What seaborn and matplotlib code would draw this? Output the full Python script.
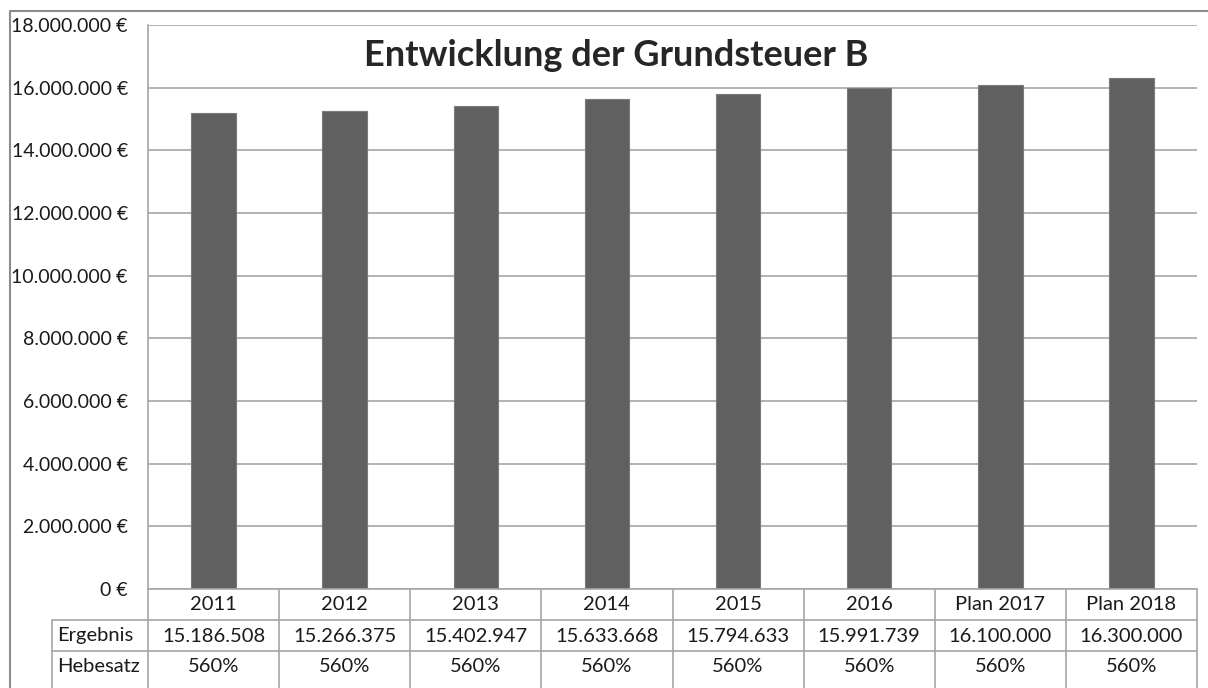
import matplotlib
matplotlib.use("Agg")
import matplotlib.pyplot as plt
import matplotlib.transforms as mtransforms
from matplotlib.lines import Line2D
import seaborn as sns
import pandas as pd

# data
categories = ["2011", "2012", "2013", "2014", "2015", "2016", "Plan 2017", "Plan 2018"]
ergebnis = [15186508, 15266375, 15402947, 15633668, 15794633, 15991739, 16100000, 16300000]
hebesatz = ["560%", "560%", "560%", "560%", "560%", "560%", "560%", "560%"]
y_ticks = [0, 2000000, 4000000, 6000000, 8000000, 10000000, 12000000, 14000000, 16000000, 18000000]

title = "Entwicklung der Grundsteuer B"
row_labels = ["Ergebnis", "Hebesatz"]

sns.set_style("white")
plt.rcParams["font.family"] = ["Lato", "DejaVu Sans"]

W, H = 1208, 688
fig = plt.figure(figsize=(W / 100, H / 100), dpi=100)

# plot area in pixel coords
x0, x1 = 148, 1197
y_top, y_bot = 25, 589
ax = fig.add_axes([x0 / W, 1 - y_bot / H, (x1 - x0) / W, (y_bot - y_top) / H])

df = pd.DataFrame({"Jahr": categories, "Ergebnis": ergebnis})
sns.barplot(data=df, x="Jahr", y="Ergebnis", color="#606060", width=0.34,
            saturation=1, edgecolor="#7a7a7a", linewidth=0.8, ax=ax, zorder=3)

fs = 14.5
txt_color = "#1a1a1a"

ax.set_xlim(-0.5, len(categories) - 0.5)
ax.set_ylim(0, 18000000)
ax.set_yticks(y_ticks)
ax.set_yticklabels([f"{v:,.0f} €".replace(",", ".") for v in y_ticks], fontsize=14, color=txt_color)
ax.set_xticks([])
ax.set_xlabel("")
ax.set_ylabel("")
ax.yaxis.grid(True, color="#a6a6a6", linewidth=1.2, zorder=0)
ax.tick_params(axis="y", length=4.5, width=1.2, color="#a6a6a6", pad=10)
for side in ["top", "right", "bottom"]:
    ax.spines[side].set_visible(False)
ax.spines["left"].set_color("#a6a6a6")
ax.spines["left"].set_linewidth(1.2)

fig.text(616 / W, 1 - 56 / H, title, fontsize=26, fontweight="bold", ha="center", va="center")

# data table below the plot, x in data coords, y in pixels
def px(y):
    return 1 - y / H

trans = mtransforms.blended_transform_factory(ax.transData, fig.transFigure)
line_kw = dict(color="#a6a6a6", linewidth=1.2, clip_on=False)

n = len(categories)

# horizontal lines
fig.add_artist(Line2D([x0 / W, x1 / W], [px(589), px(589)], transform=fig.transFigure, **line_kw))
for ye in [620, 651]:
    fig.add_artist(Line2D([52 / W, x1 / W], [px(ye), px(ye)], transform=fig.transFigure, **line_kw))
# vertical lines
fig.add_artist(Line2D([52 / W, 52 / W], [px(620), px(690)], transform=fig.transFigure, **line_kw))
for i in range(n + 1):
    xe = i - 0.5
    fig.add_artist(Line2D([xe, xe], [px(589), px(690)], transform=trans, **line_kw))

text_kw = dict(fontsize=fs, color=txt_color, va="center", transform=trans)
for i, cat in enumerate(categories):
    fig.text(i, px(605), cat, ha="center", **text_kw)
    fig.text(i, px(636), f"{ergebnis[i]:,}".replace(",", "."), ha="center", **text_kw)
    fig.text(i, px(667), hebesatz[i], ha="center", **text_kw)

fig.text(57 / W, px(636), row_labels[0], ha="left", va="center", fontsize=fs, color=txt_color)
fig.text(57 / W, px(667), row_labels[1], ha="left", va="center", fontsize=fs, color=txt_color)

# outer chart border
fig.add_artist(Line2D([10 / W, 10 / W, 1.0], [0, px(11), px(11)], transform=fig.transFigure,
                      color="#8c8c8c", linewidth=1.5))

fig.savefig("out.png", dpi=100)
